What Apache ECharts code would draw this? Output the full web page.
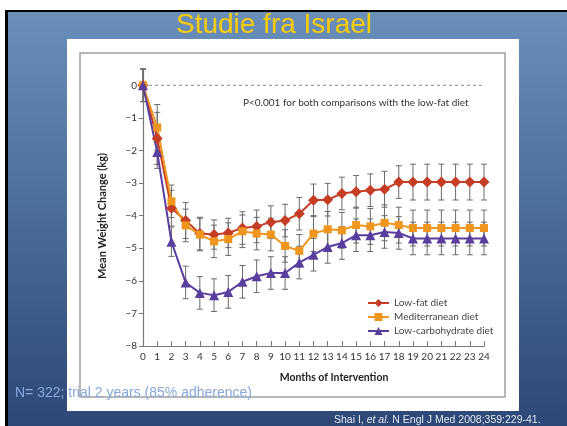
<!DOCTYPE html>
<html>
<head>
<meta charset="UTF-8"/>
<script src="https://cdn.jsdelivr.net/npm/echarts@6/dist/echarts.min.js"></script>
<style>
  html, body { margin: 0; padding: 0; background: #fff; }
  #c { width: 567px; height: 426px; }
</style>
</head>
<body>
<div id="c"></div>
<script>
// months of intervention
const months = [0,1,2,3,4,5,6,7,8,9,10,11,12,13,14,15,16,17,18,19,20,21,22,23,24];
const yTicks = [-8,-7,-6,-5,-4,-3,-2,-1,0];

// mean weight change (kg)
const lowFat = [0, -1.63, -3.77, -4.15, -4.55, -4.58, -4.53, -4.38, -4.33, -4.2, -4.15, -3.94, -3.53,
  -3.51, -3.32, -3.27, -3.22, -3.19, -2.97, -2.97, -2.97, -2.97, -2.97, -2.97, -2.97];
const mediterranean = [0, -1.29, -3.56, -4.3, -4.58, -4.79, -4.72, -4.48, -4.55, -4.58, -4.93, -5.08, -4.55,
  -4.42, -4.45, -4.29, -4.33, -4.22, -4.29, -4.38, -4.38, -4.38, -4.38, -4.38, -4.38];
const lowCarb = [0, -2.05, -4.8, -6.05, -6.37, -6.44, -6.34, -6.03, -5.86, -5.76, -5.76, -5.44, -5.2,
  -4.96, -4.84, -4.6, -4.6, -4.5, -4.53, -4.7, -4.7, -4.7, -4.7, -4.7, -4.7];

// half-length of the error bars (kg)
const lowFatErr = [0.5, 0.8, 0.55, 0.55, 0.5, 0.45, 0.45, 0.5, 0.5, 0.5, 0.5, 0.5, 0.5,
  0.5, 0.5, 0.5, 0.5, 0.55, 0.5, 0.55, 0.55, 0.55, 0.55, 0.55, 0.55];
const mediterraneanErr = [0.5, 0.7, 0.5, 0.5, 0.5, 0.5, 0.5, 0.5, 0.5, 0.5, 0.5, 0.5, 0.55,
  0.55, 0.55, 0.55, 0.55, 0.55, 0.55, 0.55, 0.55, 0.55, 0.55, 0.55, 0.55];
const lowCarbErr = [0.5, 0.5, 0.45, 0.5, 0.5, 0.5, 0.5, 0.5, 0.5, 0.5, 0.5, 0.5, 0.5,
  0.5, 0.5, 0.5, 0.5, 0.5, 0.5, 0.5, 0.5, 0.5, 0.5, 0.5, 0.5];

// the dashed reference line sits at zero change
const refLine = [0];

const RED = "#c53d25", ORANGE = "#f0961f", PURPLE = "#5a3e9e";
const FONT = "Lato";

const pairs = (vals) => months.map((m, i) => [m, vals[i]]);
const bars = (vals, err) => months.map((m, i) => [m, vals[i] - err[i], vals[i] + err[i]]);

function errorBar(params, api) {
    const x = api.value(0);
    const lo = api.coord([x, api.value(1)]);
    const hi = api.coord([x, api.value(2)]);
    const w = 3;
    const st = { stroke: "#6a6a6a", lineWidth: 1 };
    return {
        type: "group",
        children: [
            { type: "line", shape: { x1: hi[0], y1: hi[1], x2: lo[0], y2: lo[1] }, style: st },
            { type: "line", shape: { x1: hi[0] - w, y1: hi[1], x2: hi[0] + w, y2: hi[1] }, style: st },
            { type: "line", shape: { x1: lo[0] - w, y1: lo[1], x2: lo[0] + w, y2: lo[1] }, style: st }
        ]
    };
}

const errSeries = (data) => ({
    type: "custom", renderItem: errorBar, data, z: 1, silent: true, clip: false,
    encode: { x: 0, y: [1, 2] }
});

const lineSeries = (name, vals, color, symbol, size) => ({
    name, type: "line", data: pairs(vals), symbol, symbolSize: size,
    lineStyle: { color, width: 2 }, itemStyle: { color }, z: 3, animation: false
});

const chart = echarts.init(document.getElementById("c"), null, { renderer: "canvas" });

const option = {
    backgroundColor: "#ffffff",
    animation: false,
    grid: { left: 143, right: 83, top: 69, bottom: 80 },
    xAxis: {
        type: "value", min: 0, max: 24, interval: 1,
        axisLine: { onZero: false, lineStyle: { color: "#777", width: 1.2 } },
        axisTick: { inside: true, length: 5, lineStyle: { color: "#777" } },
        axisLabel: { color: "#333", fontSize: 10, fontFamily: FONT, margin: 6 },
        splitLine: { show: false }
    },
    yAxis: {
        type: "value", min: -8, max: 0.5,
        axisLine: { show: true, onZero: false, lineStyle: { color: "#777", width: 1.2 } },
        axisTick: { show: true, length: 4, customValues: yTicks, lineStyle: { color: "#777" } },
        axisLabel: {
            customValues: yTicks, color: "#333", fontSize: 10, fontFamily: FONT, margin: 6,
            formatter: (v) => (v < 0 ? "\u2212" + (-v) : String(v))
        },
        splitLine: { show: false }
    },
    legend: {
        data: ["Low-fat diet", "Mediterranean diet", "Low-carbohydrate diet"],
        orient: "vertical", left: 362, top: 293, itemWidth: 21, itemHeight: 10, itemGap: 4,
        textStyle: { color: "#444", fontSize: 10, fontFamily: FONT }
    },
    series: [
        {
            type: "line", silent: true, symbol: "none", z: 0,
            data: [[months[0], refLine[0]], [months[months.length - 1], refLine[0]]],
            lineStyle: { type: [3, 3], color: "#888", width: 1 }
        },
        errSeries(bars(mediterranean, mediterraneanErr)),
        errSeries(bars(lowCarb, lowCarbErr)),
        errSeries(bars(lowFat, lowFatErr)),
        lineSeries("Low-fat diet", lowFat, RED, "diamond", 11),
        lineSeries("Mediterranean diet", mediterranean, ORANGE, "rect", 8),
        lineSeries("Low-carbohydrate diet", lowCarb, PURPLE, "triangle", 10)
    ],
    graphic: [
        { type: "rect", z: -10, shape: { x: 5, y: 10, width: 562, height: 416 }, style: { fill: "#000" } },
        {
            type: "rect", z: -9, shape: { x: 8, y: 12, width: 559, height: 414 },
            style: {
                fill: {
                    type: "linear", x: 0, y: 0, x2: 0, y2: 1,
                    colorStops: [{ offset: 0, color: "#6890bb" }, { offset: 1, color: "#2d4876" }]
                }
            }
        },
        { type: "rect", z: -8, shape: { x: 67, y: 39, width: 452, height: 372 }, style: { fill: "#fff" } },
        {
            type: "rect", z: -7, shape: { x: 80, y: 53, width: 425, height: 344 },
            style: { fill: "none", stroke: "#a0a0a0", lineWidth: 1.5 }
        },
        {
            type: "text", z: 10, x: 274, y: 25,
            style: {
                text: "Studie fra Israel", fill: "#ffcc00", font: "28px 'Liberation Sans', Arial, sans-serif",
                align: "center", verticalAlign: "middle"
            }
        },
        {
            type: "text", z: 10, x: 243, y: 103,
            style: {
                text: "P<0.001 for both comparisons with the low-fat diet", fill: "#333",
                font: "10px Lato, sans-serif", align: "left", verticalAlign: "middle"
            }
        },
        {
            type: "text", z: 10, x: 102, y: 216, rotation: Math.PI / 2,
            style: {
                text: "Mean Weight Change (kg)", fill: "#222", font: "bold 11px Lato, sans-serif",
                align: "center", verticalAlign: "middle"
            }
        },
        {
            type: "text", z: 10, x: 334, y: 378,
            style: {
                text: "Months of Intervention", fill: "#222", font: "bold 10.5px Lato, sans-serif",
                align: "center", verticalAlign: "middle"
            }
        },
        {
            type: "text", z: 20, x: 15, y: 393,
            style: {
                text: "N= 322; trial 2 years (85% adherence)", fill: "#86a8dc",
                font: "14px 'Liberation Sans', Arial, sans-serif", align: "left", verticalAlign: "middle"
            }
        },
        {
            type: "text", z: 20, x: 334, y: 420,
            style: {
                text: "{n|Shai I, }{i|et al.}{n| N Engl J Med 2008;359:229-41.}",
                align: "left", verticalAlign: "middle",
                rich: {
                    n: { fill: "#e2e7ef", font: "10.5px 'Liberation Sans', Arial, sans-serif" },
                    i: { fill: "#e2e7ef", font: "italic 10.5px 'Liberation Sans', Arial, sans-serif" }
                }
            }
        }
    ]
};

chart.setOption(option);
</script>
</body>
</html>
